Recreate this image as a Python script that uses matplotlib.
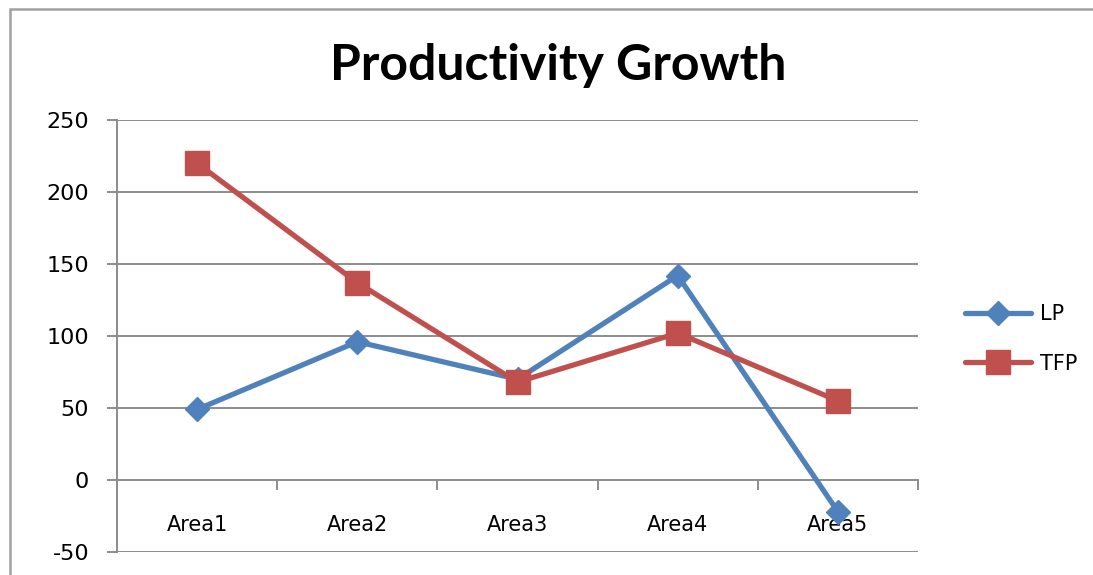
import numpy as np
import matplotlib.pyplot as plt
from matplotlib.patches import Rectangle

areas = ["Area1", "Area2", "Area3", "Area4", "Area5"]
lp = [49, 96, 70, 142, -22]
tfp = [220, 137, 68, 102, 55]
yticks = [-50, 0, 50, 100, 150, 200, 250]

blue = "#4F81BD"
red = "#C0504D"
grid_col = "#8C8C8C"

plt.rcParams["font.family"] = ["DejaVu Sans"]

fig = plt.figure(figsize=(10.93, 5.75), dpi=100)
ax = fig.add_axes([117 / 1093, 23 / 575, 801 / 1093, 432 / 575])

# outer chart frame (runs off the right and bottom edges)
fig.patches.append(Rectangle((10 / 1093, -0.1), 1.2, 1.1 - 9 / 575,
                             transform=fig.transFigure, fill=False,
                             edgecolor="#A0A0A0", lw=1.8))

x = np.arange(len(areas))
ax.set_xlim(-0.5, len(areas) - 0.5)
ax.set_ylim(yticks[0], yticks[-1])

for y in yticks:
    if y != 0:
        ax.axhline(y, color=grid_col, lw=1.4, zorder=1)

ax.plot(x, lp, color=blue, lw=3.8, marker="D", markersize=12, label="LP",
        zorder=3, solid_capstyle="round")
ax.plot(x, tfp, color=red, lw=3.8, marker="s", markersize=17, label="TFP",
        zorder=3, solid_capstyle="round")

for s in ["top", "right"]:
    ax.spines[s].set_visible(False)
ax.spines["left"].set_color(grid_col)
ax.spines["left"].set_linewidth(1.4)
ax.spines["bottom"].set_position(("data", 0))
ax.spines["bottom"].set_color(grid_col)
ax.spines["bottom"].set_linewidth(1.4)
ax.spines["bottom"].set_zorder(1)

ax.set_yticks(yticks)
ax.set_yticklabels([str(v) for v in yticks], fontsize=16)
ax.tick_params(axis="y", direction="out", length=7, width=1.4, color=grid_col, pad=13)

ax.set_xticks(x)
ax.set_xticklabels(areas, fontsize=15)
ax.set_xticks(np.arange(-0.5, len(areas)), minor=True)
ax.tick_params(axis="x", which="major", length=0, pad=25)
ax.tick_params(axis="x", which="minor", direction="out", length=7, width=1.4,
               color=grid_col)

ax.set_title("Productivity Growth", fontsize=36, fontweight="bold",
             family=["Lato", "DejaVu Sans"], x=(558 - 117) / 801,
             y=1.0, pad=29)

ax.legend(loc="center left", bbox_to_anchor=(1.035, 0.493), frameon=False,
          fontsize=15, handlelength=3.2, labelspacing=1.4, handletextpad=0.4)

fig.savefig("out.png", dpi=100)
